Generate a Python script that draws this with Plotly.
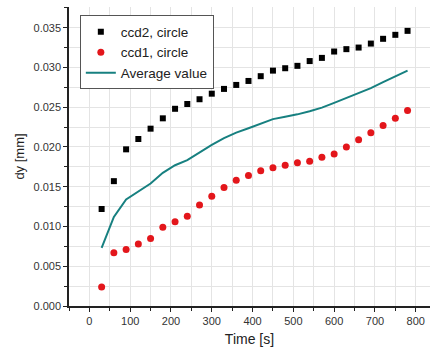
import plotly.graph_objects as go

time_s = [30, 60, 90, 120, 150, 180, 210, 240, 270, 300, 330, 360, 390,
          420, 450, 480, 510, 540, 570, 600, 630, 660, 690, 720, 750, 780]
ccd2 = [0.0122, 0.0157, 0.0197, 0.0210, 0.0223, 0.0236, 0.0248, 0.0254, 0.0260,
        0.0267, 0.0273, 0.0278, 0.0283, 0.0289, 0.0296, 0.0299, 0.0302, 0.0308,
        0.0312, 0.0320, 0.0323, 0.0325, 0.0330, 0.0336, 0.0341, 0.0346]
ccd1 = [0.0024, 0.0067, 0.0071, 0.0078, 0.0085, 0.0099, 0.0106, 0.0113, 0.0127,
        0.0138, 0.0149, 0.0158, 0.0164, 0.0170, 0.0174, 0.0177, 0.0180, 0.0182,
        0.0187, 0.0191, 0.0200, 0.0209, 0.0218, 0.0227, 0.0236, 0.0246]
average = [0.0073, 0.0112, 0.0134, 0.0144, 0.0154, 0.01675, 0.0177, 0.01835,
           0.01935, 0.02025, 0.0211, 0.0218, 0.02235, 0.02295, 0.0235, 0.0238,
           0.0241, 0.0245, 0.02495, 0.02555, 0.02615, 0.0267, 0.0274, 0.02815,
           0.02885, 0.0296]

font_family = "Liberation Sans, Arial, sans-serif"

fig = go.Figure()
fig.add_trace(go.Scatter(x=time_s, y=ccd2, mode="markers", name="ccd2, circle",
                         marker=dict(symbol="square", size=6, color="#000000")))
fig.add_trace(go.Scatter(x=time_s, y=ccd1, mode="markers", name="ccd1, circle",
                         marker=dict(symbol="circle", size=7, color="#e3161b")))
fig.add_trace(go.Scatter(x=time_s, y=average, mode="lines", name="Average value",
                         line=dict(color="#178080", width=2)))

fig.update_layout(
    width=430, height=354,
    margin=dict(l=69, r=0, t=7, b=48),
    paper_bgcolor="white", plot_bgcolor="white",
    font=dict(family=font_family, color="#333333", size=11),
    showlegend=True,
    legend=dict(x=0.03, y=0.972, xanchor="left", yanchor="top",
                bgcolor="white", bordercolor="#555555", borderwidth=1,
                font=dict(size=13.5, color="#222222"), tracegroupgap=0,
                itemwidth=30),
    xaxis=dict(range=[-50, 835], tickmode="linear", tick0=0, dtick=100,
               showline=True, linecolor="#222222", linewidth=1.5,
               ticks="outside", ticklen=4, tickcolor="#222222",
               showgrid=True, gridcolor="#e4e4e4", gridwidth=1,
               minor=dict(dtick=50, ticks="outside", ticklen=3, tickcolor="#222222",
                          showgrid=True, gridcolor="#e4e4e4"),
               zeroline=False,
               title=dict(text="Time [s]", font=dict(size=14, color="#222222"), standoff=8)),
    yaxis=dict(range=[0, 0.0376], tickmode="linear", tick0=0, dtick=0.005,
               tickformat=".3f",
               showline=True, linecolor="#222222", linewidth=1.5,
               ticks="outside", ticklen=4, tickcolor="#222222",
               showgrid=True, gridcolor="#e4e4e4", gridwidth=1,
               minor=dict(dtick=0.0025, ticks="outside", ticklen=3, tickcolor="#222222",
                          showgrid=True, gridcolor="#e4e4e4"),
               zeroline=False,
               title=dict(text="dy [mm]", font=dict(size=13, color="#222222"), standoff=6)),
)

fig.write_html("out.html")
